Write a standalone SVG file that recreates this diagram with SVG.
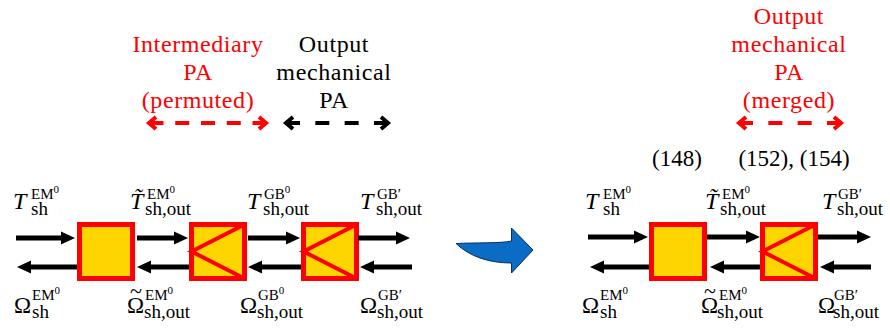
<svg xmlns="http://www.w3.org/2000/svg" width="890" height="331" viewBox="0 0 890 331">
<defs>
<style>
.t{font-family:"Liberation Serif","DejaVu Serif",serif;font-size:24px;letter-spacing:0.6px;text-anchor:middle}
.red{fill:#FF0000}
.blk{fill:#000}
.num{font-family:"Liberation Serif","DejaVu Serif",serif;font-size:23px;fill:#000;text-anchor:middle}
.mi{font-family:"Liberation Serif","DejaVu Serif",serif;font-size:24px;font-style:italic;fill:#000}
.mo{font-family:"Liberation Serif","DejaVu Serif",serif;font-size:23px;fill:#000}
.tl{font-family:"Liberation Serif","DejaVu Serif",serif;font-size:22px;fill:#000;text-anchor:middle}
.sub{font-family:"Liberation Serif","DejaVu Serif",serif;font-size:19px;fill:#000}
.sup{font-family:"Liberation Serif","DejaVu Serif",serif;font-size:15px;fill:#000}
.z{font-size:11px}
.box{fill:#FFD500;stroke:#FF0000;stroke-width:5}
.k{fill:none;stroke:#FF0000;stroke-width:4;stroke-linejoin:miter}
.arr{stroke:#000;stroke-width:5;fill:none}
.dr{stroke:#FF0000;stroke-width:4;fill:none}
.db{stroke:#000;stroke-width:4;fill:none}
</style>
<marker id="ah" markerUnits="userSpaceOnUse" markerWidth="14" markerHeight="14" refX="1" refY="7" orient="auto" viewBox="0 0 14 14">
<path d="M0,0.5 L14,7 L0,13.5 Z" fill="#000"/>
</marker>
</defs>

<!-- descriptive labels -->
<g id="label-intermediary">
<text class="t red" x="198" y="52">Intermediary</text>
<text class="t red" x="198" y="80">PA</text>
<text class="t red" x="198" y="108">(permuted)</text>
</g>
<g id="label-output">
<text class="t blk" x="334" y="52">Output</text>
<text class="t blk" x="334" y="80">mechanical</text>
<text class="t blk" x="334" y="108">PA</text>
</g>
<g id="label-output-merged">
<text class="t red" x="789" y="24">Output</text>
<text class="t red" x="789" y="52">mechanical</text>
<text class="t red" x="789" y="80">PA</text>
<text class="t red" x="789" y="108">(merged)</text>
</g>
<g id="eq-numbers">
<text class="num" x="677" y="166">(148)</text>
<text class="num" x="794" y="166">(152), (154)</text>
</g>

<!-- dashed double arrows -->
<g id="pa-arrows">
<path class="dr" d="M149.5,123 H266.5" stroke-dasharray="14 11.75"/>
<path class="dr" d="M156,117 L149,123 L156,129 M259,117 L266,123 L259,129"/>
<path class="db" d="M286,123 H388" stroke-dasharray="14 15.33"/>
<path class="db" d="M293,117 L286,123 L293,129 M381,117 L388,123 L381,129"/>
<path class="dr" d="M739,123 H841" stroke-dasharray="14 15.33"/>
<path class="dr" d="M746,117 L739,123 L746,129 M834,117 L841,123 L834,129"/>
</g>

<!-- left chain nodes -->
<g id="L-box1"><rect class="box" x="79.5" y="224.5" width="53" height="54"/></g>
<g id="L-box2"><rect class="box" x="191.5" y="224.5" width="53" height="54"/><path class="k" d="M244.5,224.5 L191.5,251.5 L244.5,278.5"/></g>
<g id="L-box3"><rect class="box" x="303.5" y="224.5" width="53" height="54"/><path class="k" d="M356.5,224.5 L303.5,251.5 L356.5,278.5"/></g>

<!-- right chain nodes -->
<g id="R-box1"><rect class="box" x="651.5" y="224.5" width="53" height="54"/></g>
<g id="R-box2"><rect class="box" x="762.5" y="224.5" width="53" height="54"/><path class="k" d="M815.5,224.5 L762.5,251.5 L815.5,278.5"/></g>

<!-- transition arrow -->
<g id="transition">
<path d="M456,243.5 C476,242.5 500,243.5 511.5,241 L511.5,228 L533,250 L511.5,273 L511.5,263 C490,263 470,257 456,243.5 Z" fill="#0A6CC4" stroke="#0B2F5A" stroke-width="1"/>
</g>

<!-- connectors -->
<g id="connectors">
<line class="arr" x1="16" y1="238" x2="62" y2="238" marker-end="url(#ah)"/>
<line class="arr" x1="137" y1="238" x2="175" y2="238" marker-end="url(#ah)"/>
<line class="arr" x1="248" y1="238" x2="287" y2="238" marker-end="url(#ah)"/>
<line class="arr" x1="358" y1="238" x2="397" y2="238" marker-end="url(#ah)"/>
<line class="arr" x1="77" y1="267" x2="30" y2="267" marker-end="url(#ah)"/>
<line class="arr" x1="189" y1="267" x2="150" y2="267" marker-end="url(#ah)"/>
<line class="arr" x1="301" y1="267" x2="261" y2="267" marker-end="url(#ah)"/>
<line class="arr" x1="412" y1="267" x2="373" y2="267" marker-end="url(#ah)"/>
<line class="arr" x1="588" y1="237" x2="635" y2="237" marker-end="url(#ah)"/>
<line class="arr" x1="707" y1="237" x2="747" y2="237" marker-end="url(#ah)"/>
<line class="arr" x1="818" y1="237" x2="858" y2="237" marker-end="url(#ah)"/>
<line class="arr" x1="649" y1="267" x2="603" y2="267" marker-end="url(#ah)"/>
<line class="arr" x1="760" y1="267" x2="723" y2="267" marker-end="url(#ah)"/>
<line class="arr" x1="871" y1="267" x2="833" y2="267" marker-end="url(#ah)"/>
</g>

<!-- math labels: left top -->
<g id="lbl-L-T1"><text class="mi" x="13" y="209">T</text><text class="sup" x="31" y="199">EM<tspan class="z" dy="-6">0</tspan></text><text class="sub" x="31" y="215">sh</text></g>
<g id="lbl-L-T2"><text class="mi" x="130" y="209">T̃</text><text class="sup" x="147" y="199">EM<tspan class="z" dy="-6">0</tspan></text><text class="sub" x="145" y="215">sh,out</text></g>
<g id="lbl-L-T3"><text class="mi" x="247" y="209">T</text><text class="sup" x="264" y="199">GB<tspan class="z" dy="-6">0</tspan></text><text class="sub" x="263" y="215">sh,out</text></g>
<g id="lbl-L-T4"><text class="mi" x="360" y="209">T</text><text class="sup" x="377" y="199">GB′</text><text class="sub" x="376" y="215">sh,out</text></g>

<!-- math labels: left bottom -->
<g id="lbl-L-W1"><text class="mo" x="14" y="313">Ω</text><text class="sup" x="32" y="300">EM<tspan class="z" dy="-6">0</tspan></text><text class="sub" x="32" y="318">sh</text></g>
<g id="lbl-L-W2"><text class="mo" x="127" y="313">Ω</text><text class="tl" x="136" y="298">~</text><text class="sup" x="145" y="300">EM<tspan class="z" dy="-6">0</tspan></text><text class="sub" x="144" y="318">sh,out</text></g>
<g id="lbl-L-W3"><text class="mo" x="240" y="313">Ω</text><text class="sup" x="258" y="300">GB<tspan class="z" dy="-6">0</tspan></text><text class="sub" x="257" y="318">sh,out</text></g>
<g id="lbl-L-W4"><text class="mo" x="360" y="313">Ω</text><text class="sup" x="378" y="300">GB′</text><text class="sub" x="377" y="318">sh,out</text></g>

<!-- math labels: right top -->
<g id="lbl-R-T1"><text class="mi" x="585" y="209">T</text><text class="sup" x="603" y="199">EM<tspan class="z" dy="-6">0</tspan></text><text class="sub" x="603" y="215">sh</text></g>
<g id="lbl-R-T2"><text class="mi" x="705" y="209">T̃</text><text class="sup" x="722" y="199">EM<tspan class="z" dy="-6">0</tspan></text><text class="sub" x="720" y="215">sh,out</text></g>
<g id="lbl-R-T3"><text class="mi" x="822" y="209">T</text><text class="sup" x="838" y="199">GB′</text><text class="sub" x="837" y="215">sh,out</text></g>

<!-- math labels: right bottom -->
<g id="lbl-R-W1"><text class="mo" x="582" y="313">Ω</text><text class="sup" x="600" y="300">EM<tspan class="z" dy="-6">0</tspan></text><text class="sub" x="600" y="318">sh</text></g>
<g id="lbl-R-W2"><text class="mo" x="701" y="313">Ω</text><text class="tl" x="710" y="298">~</text><text class="sup" x="719" y="300">EM<tspan class="z" dy="-6">0</tspan></text><text class="sub" x="717" y="318">sh,out</text></g>
<g id="lbl-R-W3"><text class="mo" x="818" y="313">Ω</text><text class="sup" x="834" y="300">GB′</text><text class="sub" x="833" y="318">sh,out</text></g>
</svg>
